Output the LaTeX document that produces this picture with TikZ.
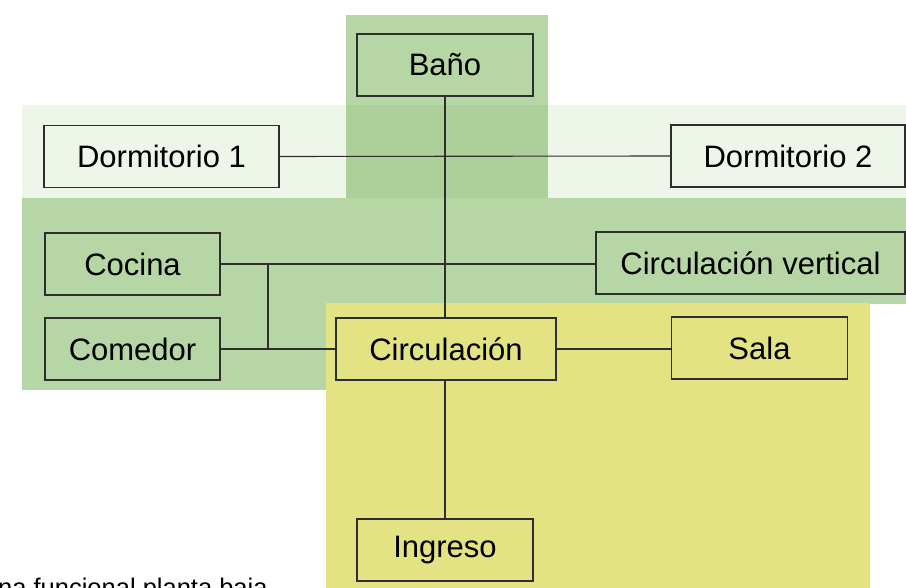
\documentclass[tikz,border=0pt]{standalone}
\usepackage{fontspec}
\setmainfont{Liberation Sans}
\definecolor{zonaclara}{HTML}{EEF6EA}
\definecolor{zonaverde}{HTML}{B6D6A5}
\definecolor{zonacruce}{HTML}{ADCF99}
\definecolor{zonaamarilla}{HTML}{E3E383}
\definecolor{borde}{HTML}{2E2E2E}
\begin{document}
\begin{tikzpicture}[x=1pt,y=-1pt]
	\tikzset{espacio/.style={draw=borde,line width=1.1pt,minimum height=62pt,inner sep=0pt,font=\fontsize{31}{37}\selectfont},
		enlace/.style={draw=borde,line width=1.1pt}}
	\useasboundingbox (0,0) rectangle (906,588);
	\clip (0,0) rectangle (906,588);
	% zonas
	\fill[zonaverde] (346,15) rectangle (548,105);
	\fill[zonaclara] (22,105) rectangle (906,198);
	\fill[zonacruce] (346,105) rectangle (548,198);
	\fill[zonaverde] (22,198) rectangle (906,304);
	\fill[zonaverde] (22,304) rectangle (326,390);
	\fill[zonaamarilla] (326,303) rectangle (870,588);
	% espacios
	\node[espacio,minimum width=176pt] (bano) at (445,65) {Baño};
	\node[espacio,minimum width=235pt] (dorm1) at (161.5,156.5) {Dormitorio 1};
	\node[espacio,minimum width=234pt] (dorm2) at (788,156) {Dormitorio 2};
	\node[espacio,minimum width=175pt] (cocina) at (132.5,264) {Cocina};
	\node[espacio,minimum width=309pt] (circv) at (750.5,263) {Circulación vertical};
	\node[espacio,minimum width=175pt] (comedor) at (132.5,349) {Comedor};
	\node[espacio,minimum width=220pt] (circ) at (446,349) {Circulación};
	\node[espacio,minimum width=176pt] (sala) at (759.5,348) {Sala};
	\node[espacio,minimum width=176pt] (ingreso) at (445,550) {Ingreso};
	% enlaces
	\draw[enlace] (bano.south) -- (bano.south |- circ.north);
	\draw[enlace] (circ.south -| bano.south) -- (ingreso.north);
	\draw[enlace] (dorm1.east) -- (dorm2.west);
	\draw[enlace] (cocina.east) -- (circv.west |- cocina.east);
	\draw[enlace] (comedor.east) -- (circ.west |- comedor.east);
	\coordinate (nudo) at (268,0);
	\draw[enlace] (nudo |- cocina.east) -- (nudo |- comedor.east);
	\draw[enlace] (circ.east) -- (sala.west |- circ.east);
	% rotulo
	\node[anchor=base west,inner sep=0pt,font=\fontsize{25.5}{30}\selectfont] (rotulo) at (-2,596) {na funcional planta baja};
\end{tikzpicture}
\end{document}
